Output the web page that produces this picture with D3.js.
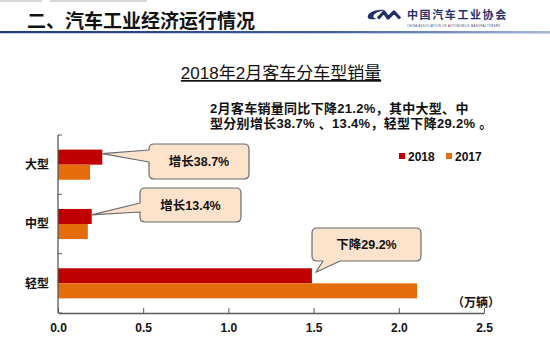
<!DOCTYPE html>
<html>
<head>
<meta charset="utf-8">
<script src="https://cdn.jsdelivr.net/npm/d3@7"></script>
<style>
  body { margin: 0; background: #fff; }
  svg { display: block; font-family: "Liberation Sans", "Noto Sans CJK SC", sans-serif; }
</style>
</head>
<body>
<svg id="chart" width="550" height="358"></svg>
<script>
// data
var categories = ["大型", "中型", "轻型"];
var seriesNames = ["2018", "2017"];
var sales2018 = [0.26, 0.198, 1.49];
var sales2017 = [0.188, 0.175, 2.107];
var xTicks = [0, 0.5, 1.0, 1.5, 2.0, 2.5];
var notes = ["增长38.7%", "增长13.4%", "下降29.2%"];

var svg = d3.select("#chart");
var colors = { "2018": "#C00000", "2017": "#E46C0A" };

// header
svg.append("rect").attr("x", 0).attr("y", 0).attr("width", 42).attr("height", 2).attr("fill", "#d6d6d6");
svg.append("rect").attr("x", 50).attr("y", 0).attr("width", 97).attr("height", 2).attr("fill", "#d6d6d6");

var grad = svg.append("defs").append("linearGradient").attr("id", "hline");
grad.append("stop").attr("offset", "0%").attr("stop-color", "#1c3a7c");
grad.append("stop").attr("offset", "60%").attr("stop-color", "#3f5f9f");
grad.append("stop").attr("offset", "100%").attr("stop-color", "#a9b9d6");
svg.append("rect").attr("x", 0).attr("y", 31).attr("width", 550).attr("height", 2).attr("fill", "url(#hline)");
svg.append("rect").attr("x", 0).attr("y", 33).attr("width", 550).attr("height", 1).attr("fill", "#c9d3e6");

svg.append("text")
   .text("二、汽车工业经济运行情况")
   .attr("x", 27).attr("y", 28)
   .style("font", "bold 19px 'Noto Sans CJK SC', sans-serif")
   .attr("fill", "#111");

// logo
svg.append("path")
   .attr("d", "M385,10 C376,8.5 366,13 368,18 C369,19.5 373,19.5 377,19 C372,18 372,15 377,12.5 C379,11.5 382,11 385,10 Z")
   .attr("fill", "#1f2f6b");
svg.append("path")
   .attr("d", "M378,18.5 L384,12 L388,18 L394,12 L400,18.5")
   .attr("fill", "none")
   .attr("stroke", "#1f2f6b")
   .attr("stroke-width", 3.2)
   .attr("stroke-linejoin", "round");
svg.append("text")
   .text("中国汽车工业协会")
   .attr("x", 407).attr("y", 19)
   .style("font", "bold 11px 'Noto Sans CJK SC', sans-serif")
   .attr("letter-spacing", 1.6)
   .attr("fill", "#1f2f6b");
svg.append("text")
   .text("CHINA ASSOCIATION OF AUTOMOBILE MANUFACTURERS")
   .attr("x", 407).attr("y", 27)
   .style("font", "2.6px 'Liberation Sans', sans-serif")
   .attr("textLength", 93)
   .attr("fill", "#1f2f6b");

// title
svg.append("text")
   .text("2018年2月客车分车型销量")
   .attr("x", 281).attr("y", 79)
   .attr("text-anchor", "middle")
   .attr("text-decoration", "underline")
   .style("font-size", "17px")
   .attr("fill", "#111");

svg.append("text")
   .text("2月客车销量同比下降21.2%，其中大型、中")
   .attr("x", 210).attr("y", 113)
   .style("font-size", "13px").style("font-weight", "bold")
   .attr("letter-spacing", 0.3)
   .attr("fill", "#111");
svg.append("text")
   .text("型分别增长38.7% 、13.4%，轻型下降29.2% 。")
   .attr("x", 210).attr("y", 128)
   .style("font-size", "13px").style("font-weight", "bold")
   .attr("letter-spacing", 0.3)
   .attr("fill", "#111");

// scales
var x = d3.scaleLinear().domain([0, 2.5]).range([58, 484]);
var y = d3.scaleBand().domain(categories).range([135, 313]).padding(0);
var ySub = d3.scaleBand().domain(seriesNames).range([0, y.bandwidth()]).paddingInner(0).paddingOuter(0.97);

var rows = categories.map(function(c, i) {
  return { cat: c, values: [{ s: "2018", v: sales2018[i] }, { s: "2017", v: sales2017[i] }] };
});

// bars
var groups = svg.selectAll("g.cat").data(rows).enter().append("g")
   .attr("class", "cat")
   .attr("transform", function(d) { return "translate(0," + y(d.cat) + ")"; });
groups.selectAll("rect").data(function(d) { return d.values; }).enter().append("rect")
   .attr("x", x(0))
   .attr("y", function(d) { return ySub(d.s); })
   .attr("width", function(d) { return x(d.v) - x(0); })
   .attr("height", ySub.bandwidth())
   .attr("fill", function(d) { return colors[d.s]; });

// x axis
var xAxis = svg.append("g").attr("transform", "translate(0,313)")
   .call(d3.axisBottom(x).tickValues(xTicks).tickFormat(d3.format(".1f")).tickSizeInner(-5).tickSizeOuter(0).tickPadding(10));
xAxis.select(".domain").attr("stroke", "#595959").attr("stroke-width", 1.3);
xAxis.selectAll(".tick line").attr("stroke", "#595959");
xAxis.selectAll(".tick text")
   .style("font", "bold 12px 'Liberation Sans', sans-serif")
   .attr("fill", "#111");

// y axis
svg.append("line").attr("x1", x(0)).attr("x2", x(0)).attr("y1", 135).attr("y2", 313)
   .attr("stroke", "#595959").attr("stroke-width", 1.3);
var yEdges = [135].concat(categories.map(function(c) { return y(c) + y.bandwidth(); }));
svg.selectAll("line.ytick").data(yEdges).enter().append("line")
   .attr("class", "ytick")
   .attr("x1", x(0)).attr("x2", x(0) + 4)
   .attr("y1", function(d) { return d; }).attr("y2", function(d) { return d; })
   .attr("stroke", "#595959");
svg.selectAll("text.ylab").data(categories).enter().append("text")
   .attr("class", "ylab")
   .text(function(d) { return d; })
   .attr("x", 49)
   .attr("y", function(d) { return y(d) + y.bandwidth() / 2; })
   .attr("dy", "0.35em")
   .attr("text-anchor", "end")
   .style("font", "bold 12px 'Noto Sans CJK SC', sans-serif")
   .attr("fill", "#111");

svg.append("text")
   .text("（万辆）")
   .attr("x", 500).attr("y", 307)
   .attr("text-anchor", "end")
   .style("font", "bold 12px 'Noto Sans CJK SC', sans-serif")
   .attr("fill", "#111");

// legend
var legend = svg.selectAll("g.leg").data(seriesNames).enter().append("g")
   .attr("class", "leg")
   .attr("transform", function(d, i) { return "translate(" + (399 + i * 47) + ",153)"; });
legend.append("rect").attr("width", 6).attr("height", 6).attr("fill", function(d) { return colors[d]; });
legend.append("text").text(function(d) { return d; })
   .attr("x", 9).attr("y", 8)
   .style("font", "bold 12px 'Liberation Sans', sans-serif")
   .attr("fill", "#111");

// callouts
function calloutPath(b, side, p1, p2, tip) {
  var r = 5, x0 = b.x, y0 = b.y, x1 = b.x + b.w, y1 = b.y + b.h;
  var d = "M" + (x0 + r) + "," + y0 + " H" + (x1 - r) + " Q" + x1 + "," + y0 + " " + x1 + "," + (y0 + r) +
          " V" + (y1 - r) + " Q" + x1 + "," + y1 + " " + (x1 - r) + "," + y1;
  if (side == "bottom") {
    d += " H" + p2 + " L" + tip[0] + "," + tip[1] + " L" + p1 + "," + y1;
  }
  d += " H" + (x0 + r) + " Q" + x0 + "," + y1 + " " + x0 + "," + (y1 - r);
  if (side == "left") {
    d += " V" + p2 + " L" + tip[0] + "," + tip[1] + " L" + x0 + "," + p1;
  }
  d += " V" + (y0 + r) + " Q" + x0 + "," + y0 + " " + (x0 + r) + "," + y0 + " Z";
  return d;
}

var barTop = function(i) { return y(categories[i]) + ySub("2018"); };
var callouts = [
  { box: { x: 149, y: 144, w: 100, h: 35 }, side: "left", p1: 150, p2: 162,
    tip: [x(sales2018[0]), barTop(0) + 4] },
  { box: { x: 140, y: 188, w: 101, h: 34 }, side: "left", p1: 203, p2: 212,
    tip: [x(sales2018[1]), barTop(1) + 6] },
  { box: { x: 312, y: 228, w: 109, h: 33 }, side: "bottom", p1: 323, p2: 340,
    tip: [x(sales2018[2]) + 4, barTop(2) + 4] }
];
callouts.forEach(function(c, i) {
  svg.append("path")
     .attr("d", calloutPath(c.box, c.side, c.p1, c.p2, c.tip))
     .attr("fill", "#fde3cc")
     .attr("stroke", "#6b6b6b")
     .attr("stroke-width", 1.2)
     .attr("stroke-linejoin", "round");
  svg.append("text")
     .text(notes[i])
     .attr("x", c.box.x + c.box.w / 2)
     .attr("y", c.box.y + c.box.h / 2)
     .attr("dy", "0.36em")
     .attr("text-anchor", "middle")
     .style("font-size", "12.5px").style("font-weight", "bold")
     .attr("fill", "#111");
});
</script>
</body>
</html>
